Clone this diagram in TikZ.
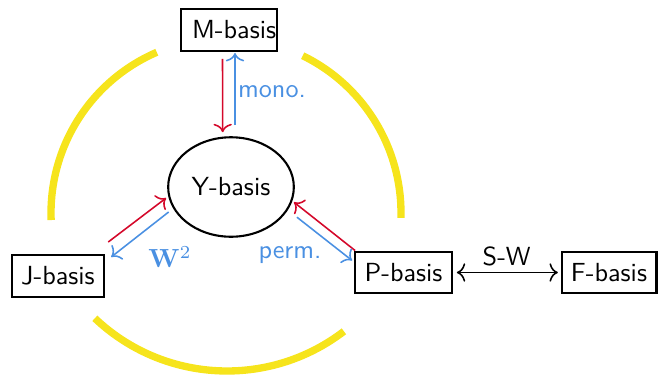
\documentclass[tikz,border=0pt]{standalone}
\usetikzlibrary{shapes.geometric,arrows.meta,calc}
\definecolor{hoopyellow}{RGB}{246,228,28}
\definecolor{maparrred}{RGB}{212,8,42}
\definecolor{maparrblue}{RGB}{74,144,226}
\begin{document}
\begin{tikzpicture}[x=0.382pt,y=-0.382pt,
  basisbox/.style={draw,line width=0.8pt,font=\sffamily,inner xsep=3.6pt,inner ysep=0pt,minimum height=16pt},
  basisoval/.style={draw,ellipse,line width=0.8pt,font=\sffamily,inner sep=0pt,minimum width=48pt,minimum height=38pt},
  hoop/.style={hoopyellow,line width=2.8pt},
  redmap/.style={maparrred,line width=0.6pt,-{To[length=3.2pt,width=7pt]}},
  bluemap/.style={maparrblue,line width=0.6pt,-{To[length=3.2pt,width=7pt]}},
  swmap/.style={black,line width=0.6pt,{To[length=3.2pt,width=7pt]}-{To[length=3.2pt,width=7pt]}},
  maplabel/.style={maparrblue,font=\sffamily}]
\useasboundingbox (0,0) rectangle (658,379);

% three yellow arcs round the triangle
\draw[hoop] (226,213) ++(177.7:175) arc[start angle=177.7,end angle=246.7,radius=175];
\draw[hoop] (226,213) ++(-64:175) arc[start angle=-64,end angle=1.6,radius=175];
\draw[hoop] (227,179) ++(133.5:192) arc[start angle=133.5,end angle=52.5,radius=192];

% bases
\node[basisbox,inner xsep=0.4pt] (M) at (229,30) {\hspace{3.9pt}M-basis};
\node[basisoval] (Y) at (231,187) {Y-basis};
\node[basisbox] (J) at (58,276) {J-basis};
\node[basisbox] (P) at (403.5,272.5) {P-basis};
\node[basisbox] (F) at (609,272.5) {F-basis};

% maps between M and Y
\draw[redmap] ([shift={(-6.5,7)}]M.south) -- ([shift={(-8.3,-4)}]Y.north);
\draw[bluemap] ([shift={(4,-11)}]Y.north) -- ([shift={(6,1)}]M.south);
\node[maplabel] (mono) at (272,92) {mono.};

% maps between J and Y
\draw[redmap] ([shift={(3,-12)}]J.north east) -- ([shift={(-2.5,0)}]Y.190);
\draw[bluemap] ([shift={(0,14)}]Y.190) -- ([shift={(6,3)}]J.north east);
\node[maparrblue] (wsq) at (170,257) {$\mathbf{W}^2$};

% maps between P and Y
\draw[redmap] ([shift={(1,0)}]P.north west) -- ([shift={(2,0)}]Y.-14);
\draw[bluemap] ([shift={(5,15)}]Y.-14) -- ([shift={(-2,10)}]P.north west);
\node[maplabel] (perm) at (290,255) {perm.};

% P and F
\draw[swmap,shorten <=1.5pt,shorten >=1pt] (P) -- node[above=-1pt,font=\sffamily] (sw) {S-W} (F);
\end{tikzpicture}
\end{document}
